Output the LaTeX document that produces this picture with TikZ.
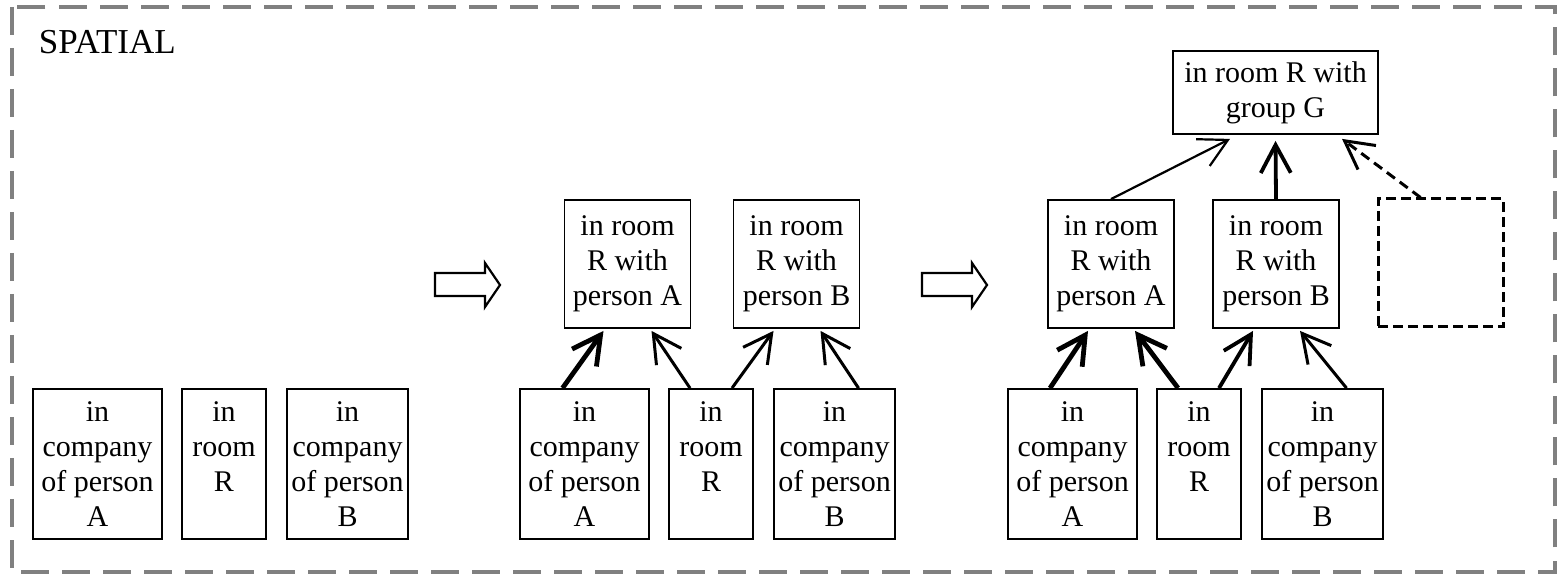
\documentclass[tikz,border=0pt]{standalone}
\usepackage{tikz}
\usetikzlibrary{arrows.meta}
\usepackage{fontspec}
\setmainfont{Liberation Serif}
\newfontfamily\cuefont{Liberation Serif}

\begin{document}
\begin{tikzpicture}
		[
			x=0.5pt,y=-0.5pt,
			every node/.style={
					draw,line width=0.9pt,inner sep=0pt,align=center,
					font=\cuefont\fontsize{15}{17.5}\selectfont},
			cue/.style={minimum height=75pt},
			pair/.style={minimum width=63pt,minimum height=64pt},
			link/.style={-{Straight Barb[length=14pt,width=15pt]}},
			lightlink/.style={link,line width=1.1pt},
			midlink/.style={link,line width=1.5pt},
			heavylink/.style={link,line width=1.9pt},
			boldlink/.style={link,line width=2.4pt}]
		\useasboundingbox (0,0) rectangle (1566,581);
		\draw[gray,line width=2pt,dash pattern=on 14pt off 6.5pt] (11.5,7) rectangle (1555,571.5);
		\node[draw=none,anchor=base west,font=\cuefont\fontsize{17.5}{20}\selectfont] (Title) at (38,54) {SPATIAL};
		% single cues, same row in every stage
		\foreach \s/\dx in {1/0,2/487,3/975}
			{
				\node[cue,minimum width=64.5pt] (CA\s) at (97.5+\dx,464) {in\\company\\of person\\A};
				\node[cue,minimum width=42pt] (RR\s) at (224+\dx,464) {in\\room\\R\\~};
				\node[cue,minimum width=60.5pt] (CB\s) at (347.5+\dx,464) {in\\company\\of person\\B};
			}
		% hollow arrows between stages
		\foreach \x in {435,922}
			\draw[line width=1.1pt] (\x,273) -- (\x+50,273) -- (\x+50,263) -- (\x+65,285)
				-- (\x+50,307) -- (\x+50,296) -- (\x,296) -- cycle;
		\node[pair] (WA2) at (627.5,264) {in room\\R with\\person A};
		\node[pair] (WB2) at (796.5,264) {in room\\R with\\person B};
		\node[pair] (WA3) at (1111,264) {in room\\R with\\person A};
		\node[pair] (WB3) at (1276,264) {in room\\R with\\person B};
		\node[minimum width=102.5pt,minimum height=41.5pt] (Group) at (1275.5,92.5) {in room R with\\group G};
		\node[pair,minimum width=62.5pt,line width=1.5pt,dash pattern=on 5pt off 2.5pt] (Open) at (1440.5,263) {};
		\draw[boldlink] ([xshift=-11pt]CA2.north) -- ([xshift=-12pt,yshift=-1pt]WA2.south);
		\draw[midlink] ([xshift=-10.5pt]RR2.north) -- ([xshift=12pt,yshift=-1pt]WA2.south);
		\draw[midlink] ([xshift=10.5pt]RR2.north) -- ([xshift=-11.5pt,yshift=-1pt]WB2.south);
		\draw[midlink] ([xshift=12pt]CB2.north) -- ([xshift=12pt,yshift=-1pt]WB2.south);
		\draw[boldlink] ([xshift=-11.25pt]CA3.north) -- ([xshift=-11.5pt,yshift=-1pt]WA3.south);
		\draw[boldlink] ([xshift=-10.5pt]RR3.north) -- ([xshift=12pt,yshift=-1pt]WA3.south);
		\draw[heavylink] ([xshift=10pt]RR3.north) -- ([xshift=-11.5pt,yshift=-1pt]WB3.south);
		\draw[midlink] ([xshift=12pt]CB3.north) -- ([xshift=12pt,yshift=-1pt]WB3.south);
		\draw[lightlink] (WA3.north) -- ([xshift=-22.75pt,yshift=-2pt]Group.south);
		\draw[heavylink] (WB3.north) -- ([yshift=-3pt]Group.south);
		\draw[midlink,dash pattern=on 5pt off 3pt] ([xshift=-10pt]Open.north) -- ([xshift=33.25pt,yshift=-2pt]Group.south);
	\end{tikzpicture}
\end{document}
